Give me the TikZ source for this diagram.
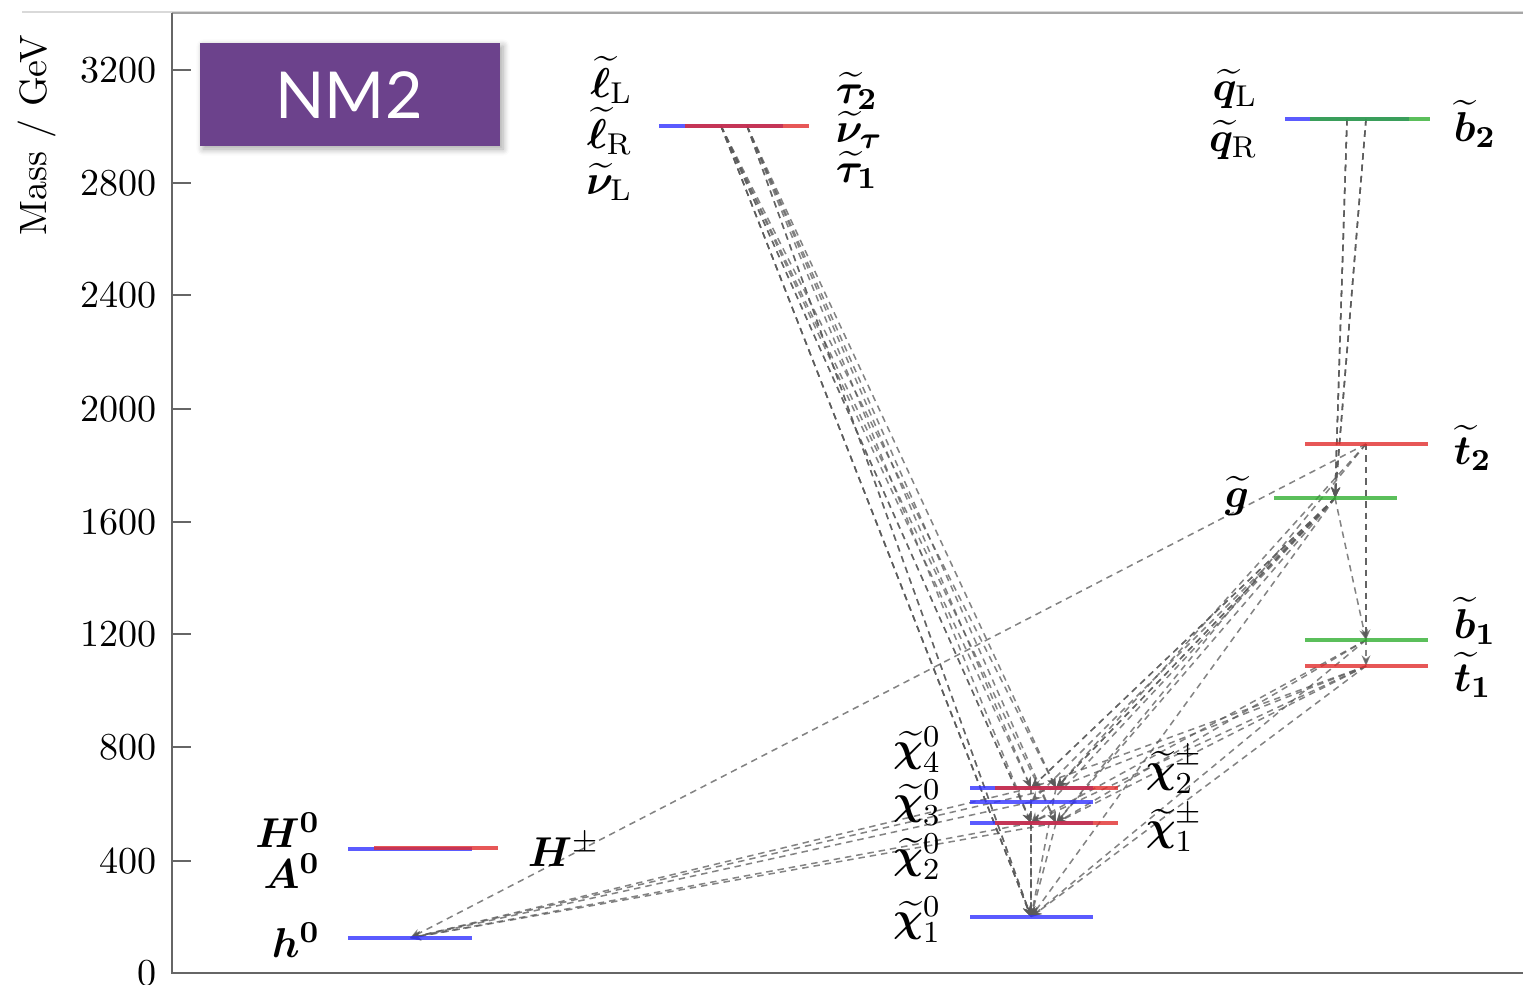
\documentclass[tikz,border=0pt]{standalone}
\usepackage{amsmath,bm}
\usepackage{fontspec}
\newfontfamily\boxfont{Lato}
\usetikzlibrary{arrows.meta,shadows.blur}
\definecolor{nmpurple}{RGB}{108,66,140}
\definecolor{lblue}{RGB}{50,50,255}
\definecolor{lred}{RGB}{225,45,45}
\definecolor{lgreen}{RGB}{50,175,50}
\tikzset{
  axisline/.style={draw=black!60, line width=0.55pt},
  lvl/.style={line width=1.05pt, opacity=0.8},
  decay/.style={draw=black!65, dash pattern=on 1.7pt off 1.3pt, line width=0.4pt,
    opacity=0.75, -{Stealth[length=2.8pt,width=2.3pt]}},
  lab/.style={inner sep=0pt, font=\fontsize{11.3}{13}\selectfont},
  tick/.style={anchor=east, inner sep=0pt, font=\normalsize}
}
\begin{document}
\begin{tikzpicture}[x=0.2626pt, y=-0.2626pt]
\useasboundingbox (0,0) rectangle (1523,984);
% frame
\draw[black!15, line width=0.5pt] (22,12) -- (1523,12);
\draw[black!35, line width=0.4pt] (172,13) -- (1523,13);
\draw[axisline] (172,13) -- (172,973) -- (1523,973);
% ticks
\foreach \v/\y in {3200/70,2800/183,2400/295,2000/409,1600/522,1200/634,800/747,400/861,0/973}{
  \draw[axisline] (172,\y) -- (191,\y);
  \node[tick] (t\v) at (157,\y) {\v};
}
\node[rotate=90, inner sep=0pt] (ylab) at (37,135) {Mass / GeV};
% NM2 box
\fill[nmpurple, blur shadow={shadow xshift=0.8pt, shadow yshift=-0.8pt, shadow blur steps=6, shadow opacity=35}] (200,43) rectangle (500,146);
\node[text=white, inner sep=0pt, font=\boxfont\fontsize{17}{20}\selectfont] (nm) at (349,95) {NM2};
% level centres
\coordinate (SLb) at (721,126);
\coordinate (SLr) at (747,126);
\coordinate (SQb) at (1347,119);
\coordinate (SQg) at (1366,119);
\coordinate (T2) at (1366,444);
\coordinate (GL) at (1335,498);
\coordinate (B1) at (1366,640);
\coordinate (T1) at (1366,666);
\coordinate (N4) at (1031,788);
\coordinate (C2) at (1056,788);
\coordinate (N3) at (1031,802);
\coordinate (N2) at (1031,823);
\coordinate (C1) at (1056,823);
\coordinate (N1) at (1031,917);
\coordinate (HH) at (410,849);
\coordinate (HP) at (436,848);
\coordinate (h0) at (410,938);
% decays
\foreach \s in {SLb,SLr}{\foreach \d in {N1,N2,N4,C1,C2}{\draw[decay] (\s) -- (\d);}}
\draw[decay] (SLb) -- (N1);
\draw[decay] (SLb) -- (N1);
\draw[decay] (SLr) -- (N1);
\draw[decay] (SLb) -- (N2);
\foreach \k in {1,2,3}{\draw[decay] (SQb) -- (GL); \draw[decay] (SQg) -- (GL);}
\foreach \d in {N1,N2,N3,N4,C1,C2,B1}{\draw[decay] (GL) -- (\d);}
\draw[decay] (GL) -- (C2);
\draw[decay] (GL) -- (N4);
\foreach \d in {T1,B1,h0,C1,C2}{\draw[decay] (T2) -- (\d);}
\foreach \d in {N1,N2,C1}{\draw[decay] (B1) -- (\d);}
\foreach \d in {N1,N2,N4,C1,C2}{\draw[decay] (T1) -- (\d);}
\foreach \s in {N2,N3,N4,C1,C2}{\draw[decay] (\s) -- (N1);}
\foreach \s in {N2,N3,N4,C1,C2}{\draw[decay] (\s) -- (h0);}
% levels
\draw[lvl, lblue] (659,126) -- (783,126);
\draw[lvl, lred] (685,126) -- (809,126);
\draw[lvl, lblue] (1285,119) -- (1409,119);
\draw[lvl, lgreen] (1310,119) -- (1430,119);
\draw[lvl, lred] (1305,444) -- (1428,444);
\draw[lvl, lgreen] (1274,498) -- (1397,498);
\draw[lvl, lgreen] (1305,640) -- (1428,640);
\draw[lvl, lred] (1305,666) -- (1428,666);
\draw[lvl, lblue] (970,788) -- (1093,788);
\draw[lvl, lred] (995,788) -- (1118,788);
\draw[lvl, lblue] (970,802) -- (1093,802);
\draw[lvl, lblue] (970,823) -- (1093,823);
\draw[lvl, lred] (995,823) -- (1118,823);
\draw[lvl, lblue] (970,917) -- (1093,917);
\draw[lvl, lblue] (348,849) -- (472,849);
\draw[lvl, lred] (374,848) -- (498,848);
\draw[lvl, lblue] (348,938) -- (472,938);
% labels
\node[lab, anchor=east] (lL) at (633,80) {$\bm{\widetilde{\ell}}_{\mathrm{L}}$};
\node[lab, anchor=east] (lR) at (633,131) {$\bm{\widetilde{\ell}}_{\mathrm{R}}$};
\node[lab, anchor=east] (nL) at (633,182) {$\bm{\widetilde{\nu}}_{\mathrm{L}}$};
\node[lab, anchor=west] (ta2) at (835,91) {$\bm{\widetilde{\tau}_2}$};
\node[lab, anchor=west] (nt) at (835,130) {$\bm{\widetilde{\nu}_\tau}$};
\node[lab, anchor=west] (ta1) at (835,170) {$\bm{\widetilde{\tau}_1}$};
\node[lab, anchor=east] (qL) at (1258,89) {$\bm{\widetilde{q}}_{\mathrm{L}}$};
\node[lab, anchor=east] (qR) at (1258,140) {$\bm{\widetilde{q}}_{\mathrm{R}}$};
\node[lab, anchor=west] (b2l) at (1453,124) {$\bm{\widetilde{b}_2}$};
\node[lab, anchor=west] (t2l) at (1453,448) {$\bm{\widetilde{t}_2}$};
\node[lab, anchor=east] (gl) at (1250,496) {$\bm{\widetilde{g}}$};
\node[lab, anchor=west] (b1l) at (1453,621) {$\bm{\widetilde{b}_1}$};
\node[lab, anchor=west] (t1l) at (1453,675) {$\bm{\widetilde{t}_1}$};
\node[lab, anchor=east] (n4l) at (942,750) {$\bm{\widetilde{\chi}}^{0}_{4}$};
\node[lab, anchor=east] (n3l) at (942,803) {$\bm{\widetilde{\chi}}^{0}_{3}$};
\node[lab, anchor=east] (n2l) at (942,857) {$\bm{\widetilde{\chi}}^{0}_{2}$};
\node[lab, anchor=east] (n1l) at (942,920) {$\bm{\widetilde{\chi}}^{0}_{1}$};
\node[lab, anchor=west] (c2l) at (1145,770) {$\bm{\widetilde{\chi}}^{\pm}_{2}$};
\node[lab, anchor=west] (c1l) at (1145,828) {$\bm{\widetilde{\chi}}^{\pm}_{1}$};
\node[lab, anchor=east] (H0l) at (321,830) {$\bm{H^0}$};
\node[lab, anchor=east] (A0l) at (321,871) {$\bm{A^0}$};
\node[lab, anchor=east] (h0l) at (321,940) {$\bm{h^0}$};
\node[lab, anchor=west] (Hpl) at (527,850) {$\bm{H}^{\pm}$};
\end{tikzpicture}
\end{document}
